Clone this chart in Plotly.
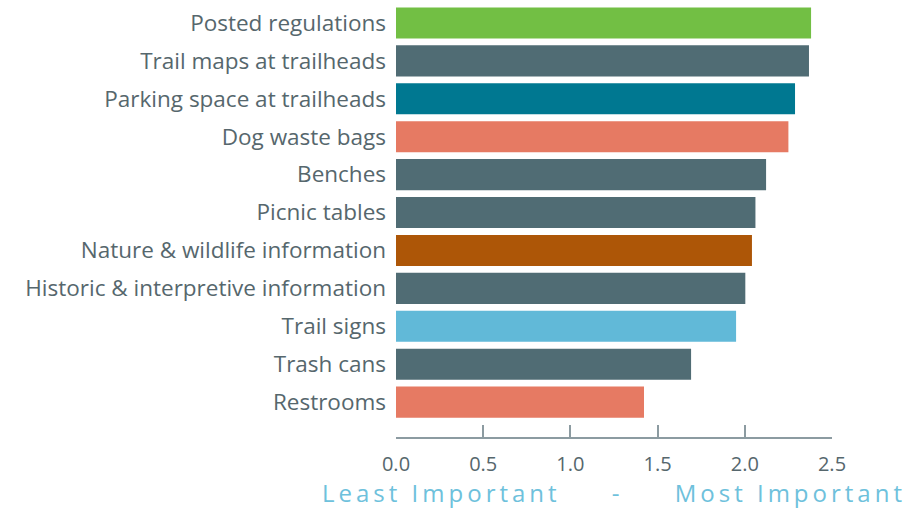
import plotly.graph_objects as go

categories = ["Posted regulations", "Trail maps at trailheads", "Parking space at trailheads",
              "Dog waste bags", "Benches", "Picnic tables", "Nature & wildlife information",
              "Historic & interpretive information", "Trail signs", "Trash cans", "Restrooms"]
values = [2.38, 2.368, 2.288, 2.25, 2.122, 2.061, 2.041, 2.003, 1.95, 1.692, 1.422]
colors = ["#72BF44", "#506C74", "#007891", "#E67A63", "#506C74", "#506C74",
          "#AD5607", "#506C74", "#61B9D8", "#506C74", "#E67A63"]
tick_vals = [0, 0.5, 1.0, 1.5, 2.0, 2.5]
tick_text = ["0.0", "0.5", "1.0", "1.5", "2.0", "2.5"]
axis_title = "Least Important     -     Most Important"

cats = categories[::-1]
vals = values[::-1]
cols = colors[::-1]

fig = go.Figure(go.Bar(
    x=vals, y=cats, orientation="h",
    marker=dict(color=cols, line=dict(width=0)),
))

FONT = "Open Sans"
fig.update_layout(
    width=915, height=509,
    margin=dict(l=396, r=83, t=4, b=72),
    paper_bgcolor="white", plot_bgcolor="white",
    bargap=0.18,
    showlegend=False,
    font=dict(family=FONT, color="#56676D", size=20),
)
fig.update_xaxes(
    range=[0, 2.5], tickvals=tick_vals, ticktext=tick_text,
    showgrid=False, zeroline=False,
    showline=True, linecolor="#8C9BA1", linewidth=1.5,
    ticks="inside", ticklen=12, tickwidth=1.5, tickcolor="#8C9BA1",
    ticklabelstandoff=8,
    tickfont=dict(size=20, color="#56676D"),
    title=dict(text=axis_title, font=dict(size=24, color="#6EC1DC"), standoff=2),
)
fig.update_yaxes(
    type="category", categoryorder="array", categoryarray=cats,
    range=[-0.92, 10.5],
    showgrid=False, zeroline=False, showline=False, ticks="",
    ticklabelstandoff=9,
    tickfont=dict(size=22.5, color="#56676D"),
)

post = """
document.body.style.margin='0';
document.querySelectorAll('.xtitle').forEach(function(e){e.style.letterSpacing='4px';});
"""
fig.write_html("out.html", post_script=post, config={"displayModeBar": False})
